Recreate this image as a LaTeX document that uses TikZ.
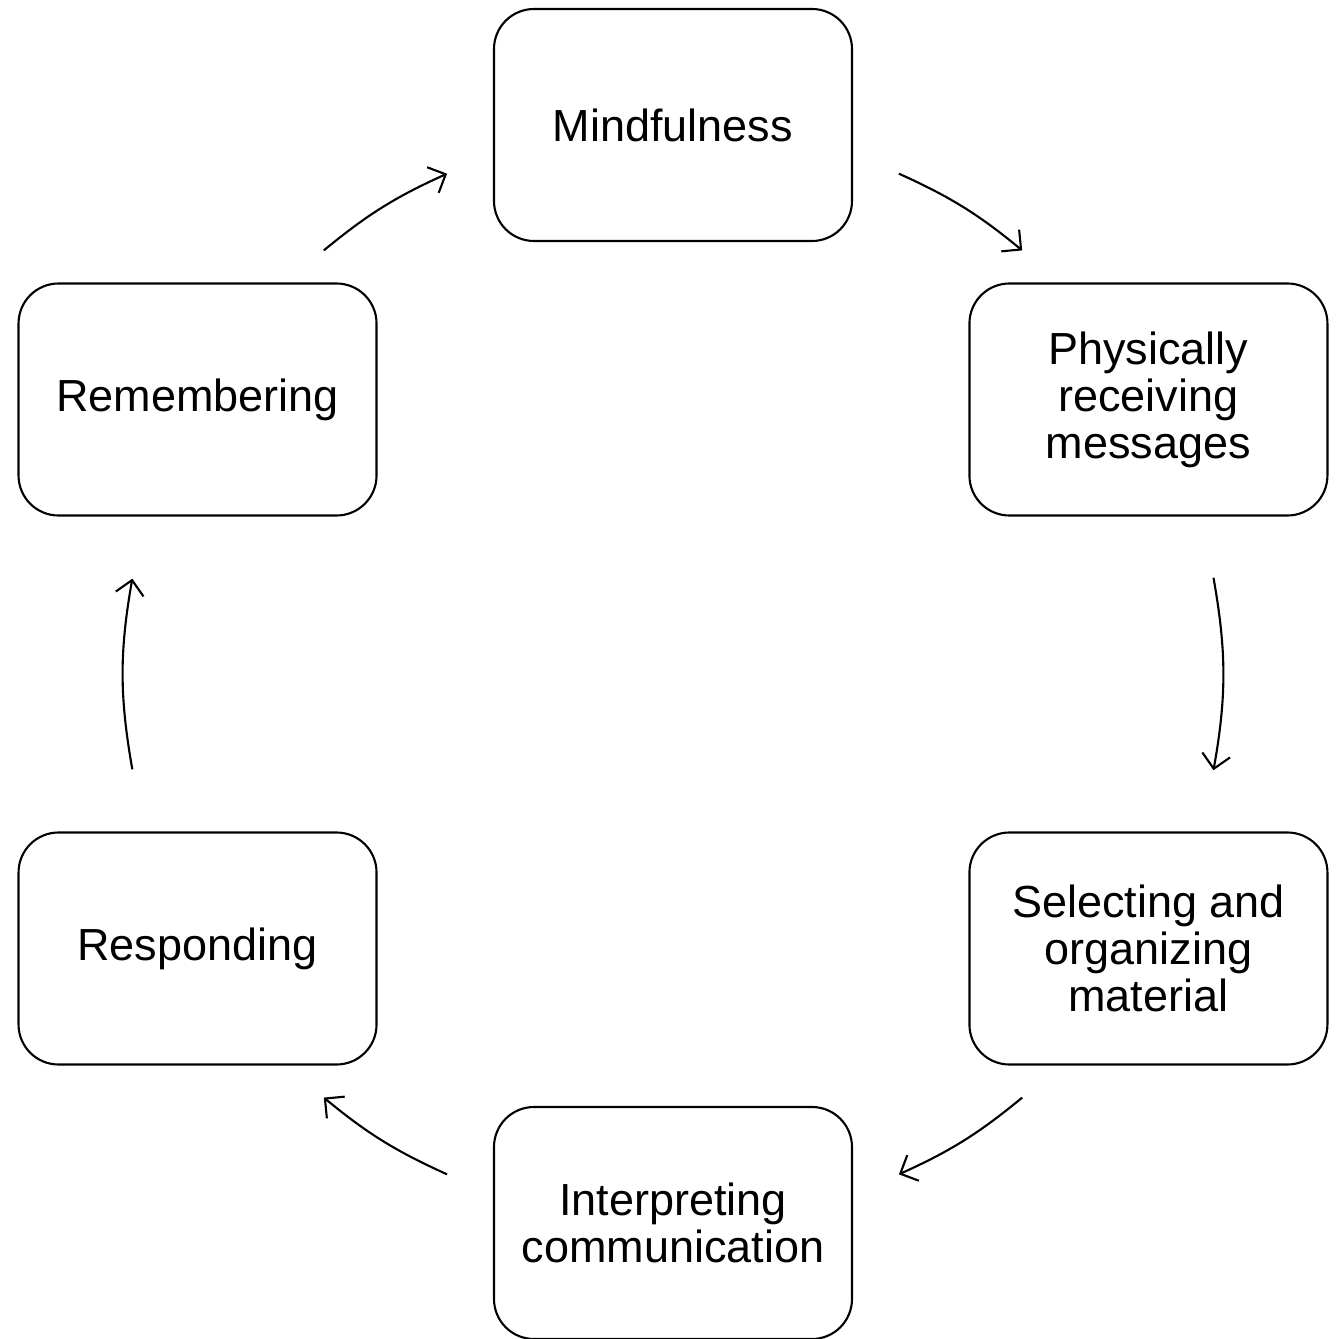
\documentclass[tikz,border=0pt]{standalone}
\usepackage{fontspec}
\setmainfont{Liberation Sans}
\usetikzlibrary{arrows.meta}

\begin{document}
\begin{tikzpicture}[>={Straight Barb[length=4pt, width=8pt]},
  stage/.style={draw, semithick, rounded corners=0.4cm,
    minimum width=3.58cm, minimum height=2.32cm, inner sep=0pt,
    align=center, font=\fontsize{12.8}{13.4}\selectfont},
  flow/.style={->, semithick}]

  \useasboundingbox (-6.73, -6.65) rectangle (6.64, 6.74);

  % --- Stages on a circle ---
  \node[stage] (mind)   at (90:5.49)   {Mindfulness};
  \node[stage] (phys)   at (30:5.49)   {Physically\\receiving\\messages};
  \node[stage] (select) at (-30:5.49)  {Selecting and\\organizing\\material};
  \node[stage] (interp) at (-90:5.49)  {Interpreting\\communication};
  \node[stage] (resp)   at (-150:5.49) {Responding};
  \node[stage] (rem)    at (150:5.49)  {Remembering};

  % --- Arcs between stages ---
  \foreach \s/\e/\b [count=\i] in {65.7/50.5/7.6, 10.1/-10.1/10.1,
      -50.5/-65.7/7.6, -114.3/-129.5/7.6, 190/170/10, 129.5/114.3/7.6} {
    \coordinate (from\i) at (\s:5.49);
    \coordinate (to\i) at (\e:5.49);
    \draw[flow] (from\i) to[bend left=\b] (to\i);
  }

\end{tikzpicture}
\end{document}
